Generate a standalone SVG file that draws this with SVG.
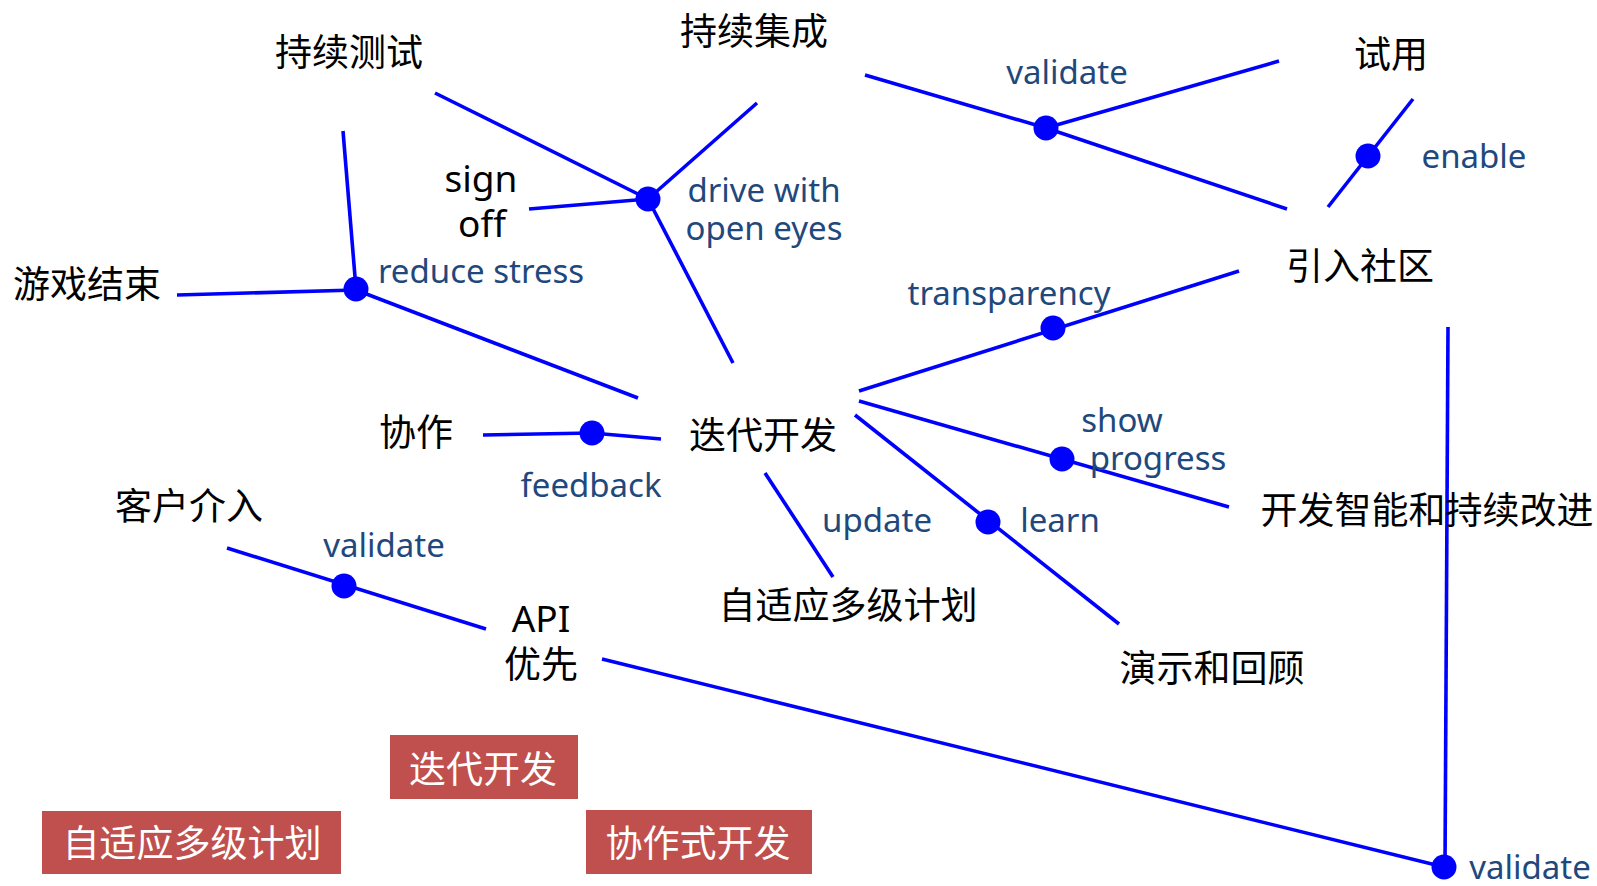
<svg xmlns="http://www.w3.org/2000/svg" width="1597" height="886" viewBox="0 0 1597 886">
<style>
.n{font-family:"Noto Sans CJK SC","Noto Sans",sans-serif;font-size:37px;fill:#000;text-anchor:middle}
.l{font-family:"Noto Sans","Noto Sans CJK SC",sans-serif;font-size:37px;fill:#000;text-anchor:middle}
.e{font-family:"Noto Sans","Noto Sans CJK SC",sans-serif;font-size:33px;fill:#1F497D;text-anchor:middle}
.c{stroke:#0000FF;stroke-width:3.6;fill:none}
.d{fill:#0000FF}
.b{fill:#C0504D}
.w{font-family:"Noto Sans CJK SC","Noto Sans",sans-serif;font-size:37px;fill:#FFFFFF;text-anchor:middle}
</style>
<rect width="1597" height="886" fill="#FFFFFF"/>
<g id="connectors">
<line class="c" x1="435" y1="93" x2="648" y2="199"/>
<line class="c" x1="757" y1="103" x2="648" y2="199"/>
<line class="c" x1="529" y1="209" x2="648" y2="199"/>
<line class="c" x1="648" y1="199" x2="733" y2="363"/>
<circle class="d" cx="648" cy="199" r="12.5"/>
<line class="c" x1="343" y1="131" x2="356" y2="289"/>
<line class="c" x1="177" y1="295" x2="356" y2="290"/>
<line class="c" x1="356" y1="290" x2="638" y2="398"/>
<circle class="d" cx="356" cy="289" r="12.5"/>
<line class="c" x1="865" y1="75" x2="1046" y2="128"/>
<line class="c" x1="1046" y1="128" x2="1279" y2="61"/>
<line class="c" x1="1046" y1="128" x2="1287" y2="209"/>
<circle class="d" cx="1046" cy="128" r="12.5"/>
<line class="c" x1="1413" y1="99" x2="1328" y2="207"/>
<circle class="d" cx="1368" cy="156" r="12.5"/>
<line class="c" x1="859" y1="391" x2="1239" y2="271"/>
<circle class="d" cx="1053" cy="328" r="12.5"/>
<line class="c" x1="859" y1="401" x2="1229" y2="507"/>
<circle class="d" cx="1062" cy="459" r="12.5"/>
<line class="c" x1="855" y1="415" x2="1119" y2="624"/>
<circle class="d" cx="988" cy="522" r="12.5"/>
<line class="c" x1="765" y1="473" x2="833" y2="577"/>
<line class="c" x1="483" y1="435" x2="592" y2="433"/>
<line class="c" x1="592" y1="433" x2="661" y2="439"/>
<circle class="d" cx="592" cy="433" r="12.5"/>
<line class="c" x1="227" y1="548" x2="486" y2="629"/>
<circle class="d" cx="344" cy="586" r="12.5"/>
<line class="c" x1="602" y1="659" x2="1444" y2="867"/>
<line class="c" x1="1448" y1="327" x2="1445" y2="867"/>
<circle class="d" cx="1444" cy="867" r="12.5"/>
<text class="e" x="481" y="283">reduce stress</text>
<text class="e" x="764" y="202">drive with</text>
<text class="e" x="764" y="240">open eyes</text>
<text class="e" x="1067" y="84">validate</text>
<text class="e" x="1474" y="168">enable</text>
<text class="e" x="1009" y="305">transparency</text>
<text class="e" x="1122" y="432">show</text>
<text class="e" x="1158" y="470">progress</text>
<text class="e" x="591" y="497">feedback</text>
<text class="e" x="877" y="532">update</text>
<text class="e" x="1060" y="532">learn</text>
<text class="e" x="384" y="557">validate</text>
<text class="e" x="1530" y="879">validate</text>
</g>
<g id="n-cxcs"><text class="n" x="349" y="66">持续测试</text></g>
<g id="n-cxjc"><text class="n" x="754" y="45">持续集成</text></g>
<g id="n-sy"><text class="n" x="1391" y="68">试用</text></g>
<g id="n-signoff"><text class="l" x="481" y="192">sign</text><text class="l" x="482" y="237">off</text></g>
<g id="n-yxjs"><text class="n" x="87" y="298">游戏结束</text></g>
<g id="n-yrsq"><text class="n" x="1360" y="280">引入社区</text></g>
<g id="n-ddkf"><text class="n" x="763" y="449">迭代开发</text></g>
<g id="n-xz"><text class="n" x="416" y="446">协作</text></g>
<g id="n-kfzn"><text class="n" x="1427" y="524">开发智能和持续改进</text></g>
<g id="n-zsy"><text class="n" x="848" y="619">自适应多级计划</text></g>
<g id="n-ysh"><text class="n" x="1212" y="682">演示和回顾</text></g>
<g id="n-khjr"><text class="n" x="189" y="520">客户介入</text></g>
<g id="n-api"><text class="l" x="541" y="632">API</text><text class="n" x="541" y="678">优先</text></g>
<g id="tag-ddkf"><rect class="b" x="390" y="735" width="188" height="64"/><text class="w" x="483" y="783">迭代开发</text></g>
<g id="tag-zsy"><rect class="b" x="42" y="811" width="299" height="63"/><text class="w" x="192" y="857">自适应多级计划</text></g>
<g id="tag-xzs"><rect class="b" x="586" y="810" width="226" height="64"/><text class="w" x="698" y="857">协作式开发</text></g>
</svg>
